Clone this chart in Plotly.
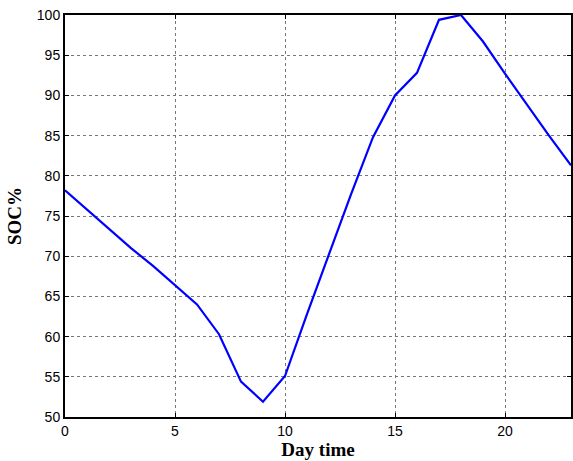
import plotly.graph_objects as go

# Hourly state of charge over one day
hours = list(range(24))
soc = [78.2, 75.8, 73.5, 71.0, 68.8, 66.4, 64.0, 60.3, 54.4, 51.9, 55.1, 62.8,
       70.3, 77.7, 84.8, 90.0, 92.8, 99.4, 100.0, 96.7, 92.7, 88.8, 85.0, 81.3]

x_ticks = [0, 5, 10, 15, 20]
y_ticks = [50, 55, 60, 65, 70, 75, 80, 85, 90, 95, 100]

fig = go.Figure(
    go.Scatter(x=hours, y=soc, mode="lines",
               line=dict(color="#0000FF", width=2.2), showlegend=False)
)

axis_common = dict(
    showgrid=True, gridcolor="#777777", griddash="dot", gridwidth=1,
    showline=True, linecolor="black", linewidth=2, mirror="ticks",
    ticks="inside", ticklen=4, tickcolor="black", zeroline=False,
    tickfont=dict(family="Liberation Sans, Arial", size=14, color="black"),
)

title_font = dict(family="Liberation Serif, Times New Roman", size=19, color="black")

fig.update_xaxes(
    range=[0, 23], tickvals=x_ticks, **axis_common,
    title=dict(text="<b>Day time</b>", standoff=5, font=title_font),
)
fig.update_yaxes(
    range=[50, 100], tickvals=y_ticks, **axis_common,
    title=dict(text="<b>SOC%</b>", standoff=10, font=title_font),
)

fig.update_layout(
    width=573, height=461,
    margin=dict(l=65, r=0, t=15, b=44),
    paper_bgcolor="white", plot_bgcolor="white",
)

fig.write_html("out.html")
